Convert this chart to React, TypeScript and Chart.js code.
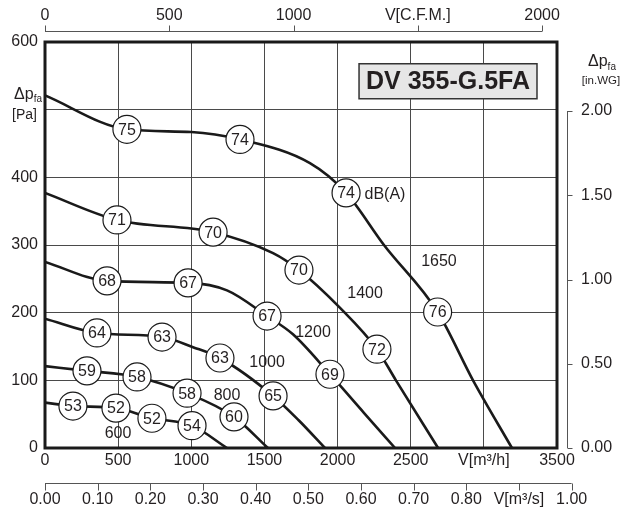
import React, { useEffect, useRef } from 'react';
import { Chart, registerables } from 'chart.js';

Chart.register(...registerables);

const FONT = "'Liberation Sans', Arial, Helvetica, sans-serif";
const INK = '#231f20';
const GRID = '#4a4a4a';

// ---- axis ticks & labels ----
const flowTicks = [0, 500, 1000, 1500, 2000, 2500, 3000, 3500];
const flowTickLabels = ['0', '500', '1000', '1500', '2000', '2500', 'V[m³/h]', '3500'];
const pressureTicks = [0, 100, 200, 300, 400, 500, 600];
const pressureTickLabels = ['0', '100', '200', '300', '400', '', '600'];
const cfmTicks = [0, 500, 1000, 1500, 2000];
const cfmTickLabels = ['0', '500', '1000', 'V[C.F.M.]', '2000'];
const m3sTicks = [0, 0.1, 0.2, 0.3, 0.4, 0.5, 0.6, 0.7, 0.8, 0.9, 1.0];
const m3sTickLabels = ['0.00', '0.10', '0.20', '0.30', '0.40', '0.50', '0.60', '0.70', '0.80', 'V[m³/s]', '1.00'];
const inwgTicks = [0, 0.5, 1.0, 1.5, 2.0];
const inwgTickLabels = ['0.00', '0.50', '1.00', '1.50', '2.00'];

const FLOW_MAX = 3500;
const PRESSURE_MAX = 600;
const M3H_PER_CFM = 1.699;
const M3H_PER_M3S = 3600;
const PA_PER_INWG = 249;

// ---- fan curves: airflow q [m3/h], pressure p [Pa] ----
const speedNames = ['600', '800', '1000', '1200', '1400', '1650'];

const q600 = [0, 191, 485, 731, 1005, 1244];
const p600 = [67, 62, 59, 44, 33, 0];
const dbIdx600 = [1, 2, 3, 4];
const db600 = [53, 52, 52, 54];

const q800 = [0, 287, 629, 971, 1292, 1524];
const p800 = [121, 114, 105, 81, 46, 0];
const dbIdx800 = [1, 2, 3, 4];
const db800 = [59, 58, 58, 60];

const q1000 = [0, 355, 800, 1012, 1196, 1559, 1734, 1914];
const p1000 = [191, 170, 164, 149, 133, 77, 41, 0];
const dbIdx1000 = [1, 2, 4, 5];
const db1000 = [64, 63, 63, 65];

const q1200 = [0, 424, 978, 1244, 1518, 1695, 1948, 2180, 2393];
const p1200 = [275, 247, 244, 233, 195, 168, 109, 52, 0];
const dbIdx1200 = [1, 2, 4, 6];
const db1200 = [68, 67, 67, 69];

const q1400 = [0, 492, 1149, 1559, 1736, 2017, 2269, 2399, 2687];
const p1400 = [377, 337, 319, 288, 263, 207, 146, 100, 0];
const dbIdx1400 = [1, 2, 4, 6];
const db1400 = [71, 70, 70, 72];

const q1650 = [0, 560, 1000, 1333, 1811, 2058, 2317, 2684, 2926, 3192];
const p1650 = [521, 471, 467, 456, 421, 377, 300, 201, 100, 0];
const dbIdx1650 = [1, 3, 5, 7];
const db1650 = [75, 74, 74, 76];

// speed label anchors (data coordinates)
const speedLabelQ = [499, 1244, 1518, 1832, 2188, 2693];
const speedLabelP = [21, 78, 126, 171, 228, 275];

const dbUnitText = 'dB(A)';
const dbUnitQ = 2324;
const dbUnitP = 374;

const titleText = 'DV 355-G.5FA';
const titleQ = 2755;
const titleP = 542;

const curves = [
  { q: q600, p: p600, idx: dbIdx600, db: db600 },
  { q: q800, p: p800, idx: dbIdx800, db: db800 },
  { q: q1000, p: p1000, idx: dbIdx1000, db: db1000 },
  { q: q1200, p: p1200, idx: dbIdx1200, db: db1200 },
  { q: q1400, p: p1400, idx: dbIdx1400, db: db1400 },
  { q: q1650, p: p1650, idx: dbIdx1650, db: db1650 },
];

const lookup = (ticks: number[], labels: string[]) => (v: any) => {
  const i = ticks.findIndex((t) => Math.abs(t - Number(v)) < 1e-6);
  return i >= 0 ? labels[i] : '';
};

const tickFont = { family: FONT, size: 16 };

function drawSub(ctx: CanvasRenderingContext2D, main: string, sub: string, x: number, y: number, align: 'right' | 'center') {
  ctx.font = `16px ${FONT}`;
  const wm = ctx.measureText(main).width;
  ctx.font = `10px ${FONT}`;
  const ws = ctx.measureText(sub).width;
  const total = wm + ws;
  const x0 = align === 'right' ? x - total : x - total / 2;
  ctx.textAlign = 'left';
  ctx.textBaseline = 'middle';
  ctx.font = `16px ${FONT}`;
  ctx.fillText(main, x0, y);
  ctx.font = `10px ${FONT}`;
  ctx.fillText(sub, x0 + wm, y + 5);
}

const decorPlugin = {
  id: 'decor',
  afterDatasetsDraw(chart: any) {
    const { ctx, chartArea: a, scales } = chart;
    const sx = scales.x;
    const sy = scales.y;
    ctx.save();
    ctx.fillStyle = INK;

    // dB values in markers
    ctx.font = `16px ${FONT}`;
    ctx.textAlign = 'center';
    ctx.textBaseline = 'middle';
    chart.data.datasets.forEach((ds: any, i: number) => {
      if (!ds.dbValues) return;
      const meta = chart.getDatasetMeta(i);
      meta.data.forEach((pt: any, j: number) => {
        ctx.fillText(String(ds.dbValues[j]), pt.x, pt.y + 1);
      });
    });

    // speed labels
    speedNames.forEach((s, i) => {
      ctx.fillText(s, sx.getPixelForValue(speedLabelQ[i]), sy.getPixelForValue(speedLabelP[i]));
    });
    ctx.fillText(dbUnitText, sx.getPixelForValue(dbUnitQ), sy.getPixelForValue(dbUnitP));

    // title box
    ctx.font = `bold 25px ${FONT}`;
    const tw = ctx.measureText(titleText).width;
    const cx = sx.getPixelForValue(titleQ);
    const cy = sy.getPixelForValue(titleP);
    const bw = tw + 14;
    const bh = 35;
    ctx.fillStyle = '#e6e6e6';
    ctx.fillRect(cx - bw / 2, cy - bh / 2, bw, bh);
    ctx.strokeStyle = '#333';
    ctx.lineWidth = 1.5;
    ctx.strokeRect(cx - bw / 2, cy - bh / 2, bw, bh);
    ctx.fillStyle = INK;
    ctx.fillText(titleText, cx, cy + 1);

    // plot border
    ctx.strokeStyle = '#1a1a1a';
    ctx.lineWidth = 3;
    ctx.strokeRect(a.left, a.top, a.right - a.left, a.bottom - a.top);

    // secondary axes
    ctx.strokeStyle = '#555';
    ctx.lineWidth = 1;
    // top CFM
    const t = scales.xTop;
    const ty = Math.round(t.bottom - 11) + 0.5;
    ctx.beginPath();
    ctx.moveTo(t.getPixelForValue(cfmTicks[0]), ty);
    ctx.lineTo(t.getPixelForValue(cfmTicks[cfmTicks.length - 1]), ty);
    cfmTicks.forEach((v) => {
      const px = Math.round(t.getPixelForValue(v)) + 0.5;
      ctx.moveTo(px, ty);
      ctx.lineTo(px, ty - 6);
    });
    ctx.stroke();
    // bottom m3/s
    const b = scales.x2;
    const by = Math.round(b.top) + 0.5;
    ctx.beginPath();
    ctx.moveTo(b.getPixelForValue(m3sTicks[0]), by);
    ctx.lineTo(b.getPixelForValue(m3sTicks[m3sTicks.length - 1]), by);
    m3sTicks.forEach((v) => {
      const px = Math.round(b.getPixelForValue(v)) + 0.5;
      ctx.moveTo(px, by);
      ctx.lineTo(px, by + 7);
    });
    ctx.stroke();
    // right in.WG
    const r = scales.yR;
    const rx = Math.round(r.left + 10) + 0.5;
    ctx.beginPath();
    ctx.moveTo(rx, r.getPixelForValue(inwgTicks[0]));
    ctx.lineTo(rx, r.getPixelForValue(inwgTicks[inwgTicks.length - 1]));
    inwgTicks.forEach((v) => {
      const py = Math.round(r.getPixelForValue(v)) + 0.5;
      ctx.moveTo(rx, py);
      ctx.lineTo(rx + 5, py);
    });
    ctx.stroke();

    // axis titles
    ctx.fillStyle = INK;
    const y500 = sy.getPixelForValue(500);
    drawSub(ctx, 'Δp', 'fa', sy.right - 3, y500 - 15, 'right');
    ctx.font = `14px ${FONT}`;
    ctx.textAlign = 'right';
    ctx.textBaseline = 'middle';
    ctx.fillText('[Pa]', sy.right - 8, y500 + 5);

    const r2 = r.getPixelForValue(2.0);
    drawSub(ctx, 'Δp', 'fa', r.left + 45, r2 - 49, 'center');
    ctx.font = `11.5px ${FONT}`;
    ctx.textAlign = 'center';
    ctx.fillText('[in.WG]', r.left + 44, r2 - 30);

    ctx.restore();
  },
};

export default function App() {
  const ref = useRef<HTMLCanvasElement | null>(null);

  useEffect(() => {
    if (!ref.current) return;
    const lineSets = curves.map((c) => ({
      type: 'line' as const,
      data: c.q.map((q, i) => ({ x: q, y: c.p[i] })),
      borderColor: '#1a1a1a',
      borderWidth: 2.6,
      pointRadius: 0,
      fill: false,
      showLine: true,
      cubicInterpolationMode: 'monotone' as const,
      order: 2,
    }));
    const markerSets = curves.map((c) => ({
      type: 'scatter' as const,
      data: c.idx.map((k) => ({ x: c.q[k], y: c.p[k] })),
      dbValues: c.db,
      pointRadius: 14,
      pointBackgroundColor: '#ffffff',
      pointBorderColor: '#1a1a1a',
      pointBorderWidth: 1.2,
      showLine: false,
      order: 1,
    }));

    const chart = new Chart(ref.current, {
      type: 'scatter',
      data: { datasets: [...lineSets, ...markerSets] as any },
      options: {
        animation: false,
        responsive: false,
        devicePixelRatio: 1,
        layout: { padding: 0 },
        plugins: { legend: { display: false }, tooltip: { enabled: false } },
        scales: {
          x: {
            type: 'linear',
            position: 'bottom',
            weight: 0,
            min: 0,
            max: FLOW_MAX,
            afterBuildTicks: (s: any) => { s.ticks = flowTicks.map((v) => ({ value: v })); },
            ticks: { callback: lookup(flowTicks, flowTickLabels), font: tickFont, color: INK, padding: 3, autoSkip: false, maxRotation: 0 },
            grid: { color: GRID, lineWidth: 1, drawTicks: false },
            border: { display: false },
            afterFit: (s: any) => { s.height = 35; },
          },
          x2: {
            type: 'linear',
            position: 'bottom',
            weight: 1,
            min: 0,
            max: FLOW_MAX / M3H_PER_M3S,
            afterBuildTicks: (s: any) => { s.ticks = m3sTicks.map((v) => ({ value: v })); },
            ticks: { callback: lookup(m3sTicks, m3sTickLabels), font: tickFont, color: INK, padding: 7, autoSkip: false, maxRotation: 0 },
            grid: { display: false, drawTicks: false },
            border: { display: false },
            afterFit: (s: any) => { s.height = 28; },
          },
          xTop: {
            type: 'linear',
            position: 'top',
            min: 0,
            max: FLOW_MAX / M3H_PER_CFM,
            afterBuildTicks: (s: any) => { s.ticks = cfmTicks.map((v) => ({ value: v })); },
            ticks: { callback: lookup(cfmTicks, cfmTickLabels), font: tickFont, color: INK, padding: 17, autoSkip: false, maxRotation: 0 },
            grid: { display: false, drawTicks: false },
            border: { display: false },
            afterFit: (s: any) => { s.height = 42; },
          },
          y: {
            type: 'linear',
            position: 'left',
            min: 0,
            max: PRESSURE_MAX,
            afterBuildTicks: (s: any) => { s.ticks = pressureTicks.map((v) => ({ value: v })); },
            ticks: { callback: lookup(pressureTicks, pressureTickLabels), font: tickFont, color: INK, padding: 7, autoSkip: false },
            grid: { color: GRID, lineWidth: 1, drawTicks: false },
            border: { display: false },
            afterFit: (s: any) => { s.width = 45; },
          },
          yR: {
            type: 'linear',
            position: 'right',
            min: 0,
            max: PRESSURE_MAX / PA_PER_INWG,
            afterBuildTicks: (s: any) => { s.ticks = inwgTicks.map((v) => ({ value: v })); },
            ticks: { callback: lookup(inwgTicks, inwgTickLabels), font: tickFont, color: INK, padding: 24, autoSkip: false },
            grid: { display: false, drawTicks: false },
            border: { display: false },
            afterFit: (s: any) => { s.width = 64; },
          },
        },
      } as any,
      plugins: [decorPlugin],
    });
    return () => chart.destroy();
  }, []);

  return (
    <div style={{ position: 'fixed', left: 0, top: 0, width: 621, height: 511, background: '#fff' }}>
      <canvas ref={ref} width={621} height={511} style={{ width: 621, height: 511, display: 'block' }} />
    </div>
  );
}
